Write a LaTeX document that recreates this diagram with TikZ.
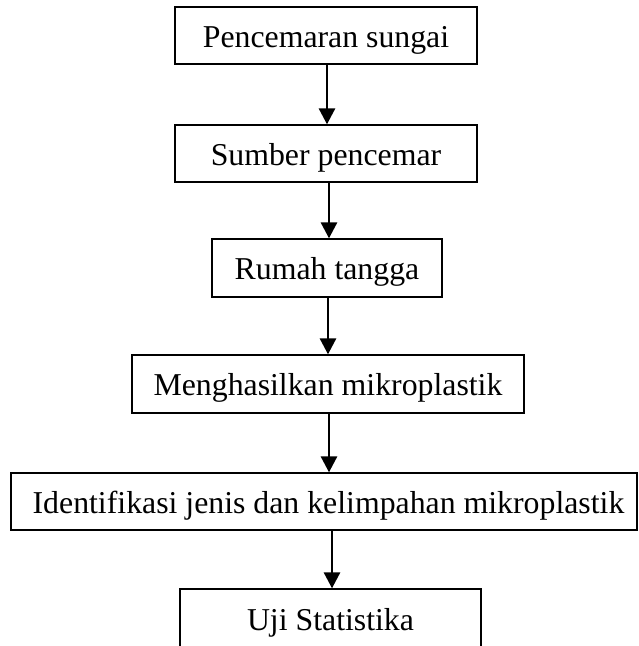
\documentclass[tikz,border=0pt]{standalone}
\usepackage{fontspec}
\setmainfont{Liberation Serif}
\usetikzlibrary{arrows.meta}
\begin{document}
\begin{tikzpicture}[x=1pt,y=-1pt,
  stepbox/.style={draw=black,line width=1.3pt,fill=white,inner sep=0pt,
    minimum height=57pt,text height=23pt,text depth=0pt,
    font=\fontsize{31.8}{38}\selectfont},
  flow/.style={line width=2.8pt,-{Triangle[width=16pt,length=16pt]}}]
\useasboundingbox (0,0) rectangle (638,646);
\clip (0,0) rectangle (638,646);
\node[stepbox,minimum width=302pt] (a) at (326,35.5) {Pencemaran sungai};
\node[stepbox,minimum width=302pt] (b) at (326,153.5) {Sumber pencemar};
\node[stepbox,minimum width=230pt,minimum height=58pt] (c) at (327,268) {Rumah tangga};
\node[stepbox,minimum width=392pt,minimum height=58pt] (d) at (328,384) {Menghasilkan mikroplastik};
\node[stepbox,minimum width=626pt] (e) at (324,501.5) {\hspace*{9pt}Identifikasi jenis dan kelimpahan mikroplastik};
\node[stepbox,minimum width=301pt,minimum height=60pt] (f) at (330.5,619) {Uji Statistika};
\draw[flow] ([xshift=1pt]a.south) -- ([xshift=1pt]a.south |- b.north);
\draw[flow] ([xshift=3pt]b.south) -- ([xshift=3pt]b.south |- c.north);
\draw[flow] ([xshift=1pt]c.south) -- ([xshift=1pt]c.south |- d.north);
\draw[flow] ([xshift=1pt]d.south) -- ([xshift=1pt]d.south |- e.north);
\draw[flow] ([xshift=1.5pt]f.north |- e.south) -- ([xshift=1.5pt]f.north);
\end{tikzpicture}
\end{document}
